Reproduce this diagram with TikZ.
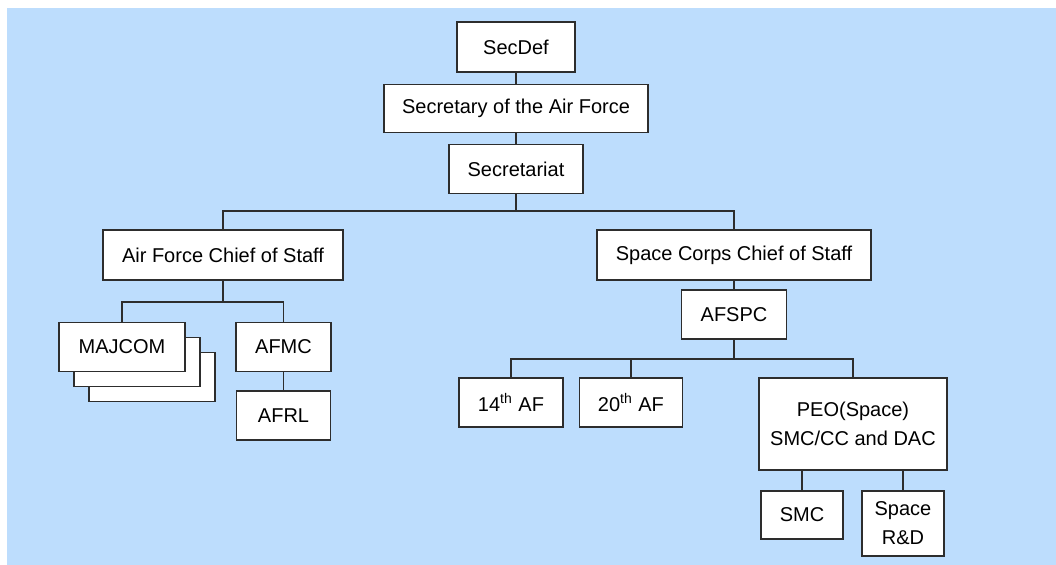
\documentclass[tikz,border=0pt]{standalone}
\usepackage{fontspec}
\setmainfont{Liberation Sans}
\usetikzlibrary{positioning}
\definecolor{skyfill}{RGB}{189,221,253}
\definecolor{edgegray}{RGB}{45,45,45}
\tikzset{
  org/.style={draw=edgegray, line width=0.7pt, fill=white, inner sep=0pt, align=center,
    minimum height=24.5pt, font=\fontsize{10pt}{14.5pt}\selectfont},
  link/.style={draw=edgegray, line width=0.6pt},
}

\begin{document}
\begin{tikzpicture}[x=0.5pt, y=-0.5pt]
\useasboundingbox (0,0) rectangle (1056,565);
\fill[skyfill] (7,8) rectangle (1056,565);
\node[org, minimum width=59pt, minimum height=25pt] (secdef) at (516,47) {SecDef};
\node[org, below=5.5pt of secdef, minimum width=132pt, minimum height=24pt] (secaf) {Secretary of the Air Force};
\node[org, below=5.5pt of secaf, minimum width=67pt] (secretariat) {Secretariat};
\node[org, minimum width=120pt, minimum height=25pt] (afcos) at (223,255) {Air Force Chief of Staff};
\node[org, minimum width=137pt, minimum height=25pt] (sccos) at (734,255) {Space Corps Chief of Staff};
\node[org, minimum width=63pt] (majcomc) at (152,377) {};
\node[org, minimum width=63pt] (majcomb) at (137,362) {};
\node[org, minimum width=63pt] (majcom) at (122,347) {MAJCOM};
\node[org, minimum width=47.5pt] (afmc) at (283.5,347) {AFMC};
\node[org, below=9pt of afmc, minimum width=47pt] (afrl) {AFRL};
\node[org, minimum width=52.5pt] (afspc) at (734,314.5) {AFSPC};
\node[org, minimum width=52pt] (af14) at (511,402.5) {14\textsuperscript{th} AF};
\node[org, right=7.5pt of af14, minimum width=51.5pt] (af20) {20\textsuperscript{th} AF};
\node[org, minimum width=94pt, minimum height=46pt] (peo) at (853,424) {PEO(Space)\\SMC/CC and DAC};
\node[org, minimum width=41pt, minimum height=24pt] (smc) at (802,515) {SMC};
\node[org, minimum width=41pt, minimum height=32.5pt] (spacerd) at (903,523.5) {Space\\R\&D};
\coordinate (topbar) at (516,211);
\coordinate (afbar) at (223,302);
\coordinate (spbar) at (734,359);
\draw[link] (secdef) -- (secaf);
\draw[link] (secaf) -- (secretariat);
\draw[link] (secretariat) -- (topbar);
\draw[link] (afcos.north) |- (topbar) -| (sccos.north);
\draw[link] (sccos) -- (afspc);
\draw[link] (afcos) -- (afbar);
\draw[link] (majcom.north) |- (afbar) -| (afmc.north);
\draw[link] (afmc) -- (afrl);
\draw[link] (af14.north) |- (spbar) -| (peo.north);
\draw[link] (af20.north) -- (af20.north |- spbar);
\draw[link, line width=1.3pt] (afspc.south) -- (spbar) -- (spbar -| af20.north);
\draw[link] (peo.south -| smc.north) -- (smc.north);
\draw[link] (peo.south -| spacerd.north) -- (spacerd.north);
\end{tikzpicture}
\end{document}
